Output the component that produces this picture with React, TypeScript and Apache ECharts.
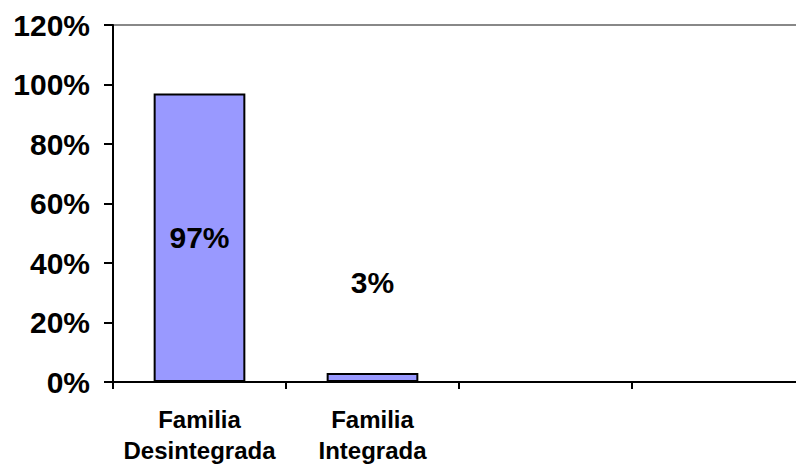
import React, { useEffect, useRef } from "react";
import * as echarts from "echarts";

const categories = ["Familia\nDesintegrada", "Familia\nIntegrada", "", ""];
const values = [97, 3, null, null];
const yTicks = [0, 20, 40, 60, 80, 100, 120];

export default function App() {
  const ref = useRef<HTMLDivElement>(null);
  useEffect(() => {
    const chart = echarts.init(ref.current!, null, { renderer: "svg" });
    const font = "'Liberation Sans', Arial, sans-serif";
    chart.setOption({
      animation: false,
      backgroundColor: "#ffffff",
      grid: { left: 113, right: 0, top: 25, bottom: 81, containLabel: false },
      xAxis: {
        type: "category",
        data: categories,
        boundaryGap: true,
        axisLine: { show: true, lineStyle: { color: "#000", width: 2 } },
        axisTick: { show: true, length: 7, lineStyle: { color: "#000", width: 2 } },
        axisLabel: {
          interval: 0,
          margin: 22,
          fontFamily: font,
          fontWeight: "bold",
          fontSize: 24,
          lineHeight: 31,
          color: "#000",
        },
      },
      yAxis: {
        type: "value",
        min: yTicks[0],
        max: yTicks[yTicks.length - 1],
        interval: 20,
        axisLine: { show: true, lineStyle: { color: "#000", width: 2 } },
        axisTick: { show: true, length: 9, lineStyle: { color: "#000", width: 2 } },
        axisLabel: {
          margin: 23,
          fontFamily: font,
          fontWeight: "bold",
          fontSize: 30,
          color: "#000",
          formatter: (v: number) => v + "%",
        },
        splitLine: {
          show: true,
          lineStyle: {
            color: ["transparent", "transparent", "transparent", "transparent", "transparent", "transparent", "#888888"],
            width: 2,
          },
        },
      },
      series: [
        {
          type: "bar",
          data: values.map((v, i) => ({
            value: v,
            label:
              i === 1
                ? { show: true, position: "top", distance: 76 }
                : { show: true, position: "inside" },
          })),
          barWidth: "53%",
          itemStyle: { color: "#9999FF", borderColor: "#000", borderWidth: 2 },
          label: {
            show: true,
            fontFamily: font,
            fontWeight: "bold",
            fontSize: 30,
            color: "#000",
            formatter: (p: any) => p.value + "%",
          },
        },
      ],
    });
    return () => chart.dispose();
  }, []);
  return (
    <div style={{ position: "absolute", left: 0, top: 0, width: 796, height: 466, overflow: "hidden", background: "#fff" }}>
      <div ref={ref} style={{ width: 805, height: 466 }} />
    </div>
  );
}
